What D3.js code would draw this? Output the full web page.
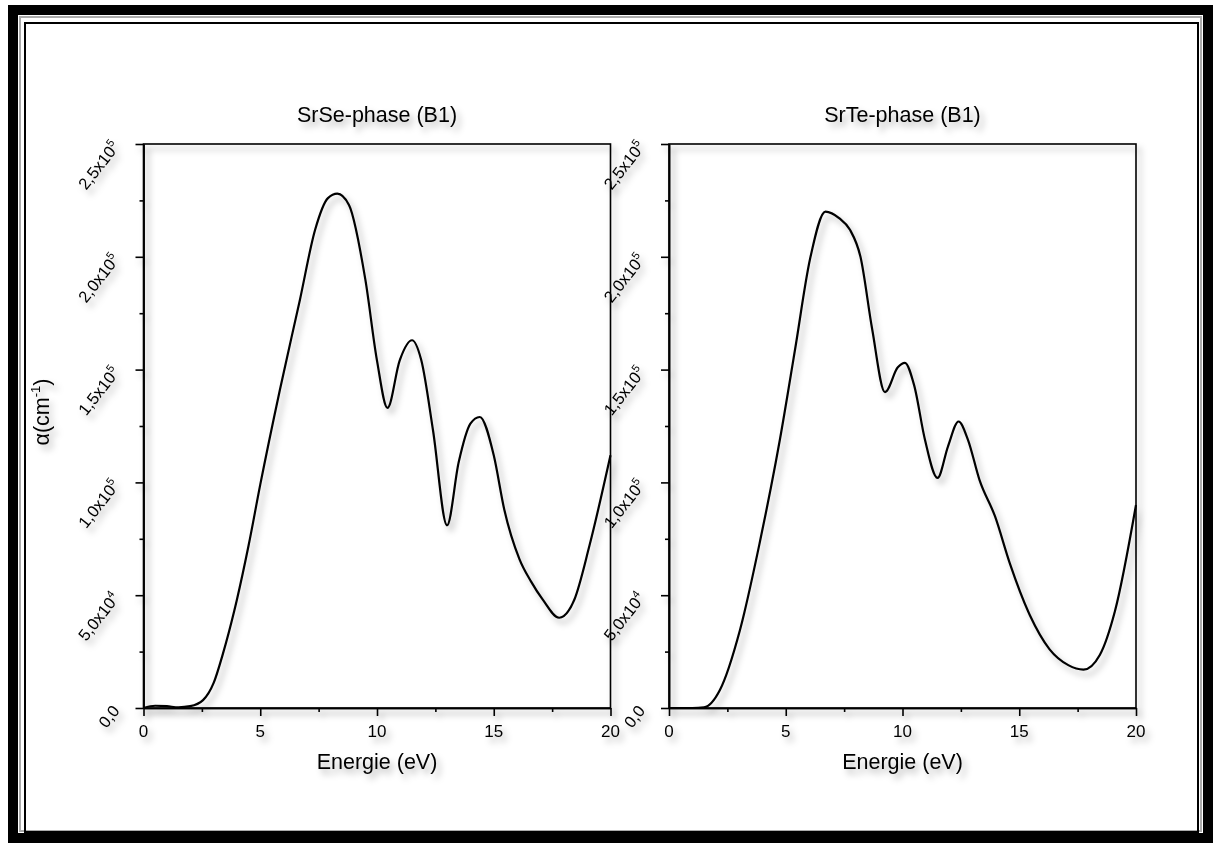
<!DOCTYPE html>
<html>
<head>
<meta charset="utf-8">
<script src="https://cdn.jsdelivr.net/npm/d3@7"></script>
<style>
  body { margin: 0; background: #fff; }
  svg { display: block; font-family: "Liberation Sans", Arial, sans-serif; }
</style>
</head>
<body>
<svg id="chart" width="1216" height="843"></svg>
<script>
// values
let energySe = [0, 0.5, 1, 1.5, 2, 2.55, 3.0, 3.4, 4.0, 4.5, 5, 5.84, 6.7, 7.35, 7.9, 8.3, 8.8, 9.5, 10.0, 10.45, 10.97, 11.5, 11.9, 12.4, 13.0, 13.5, 14.0, 14.4, 15.0, 15.45, 16.1, 16.6, 17.1, 17.8, 18.45, 19.1, 20];
let alphaSe = [0, 1000, 800, 300, 800, 3500, 11000, 24000, 48000, 72000, 99000, 141000, 181000, 212000, 226000, 228000, 223000, 190000, 154000, 133000, 154000, 163000, 154000, 123000, 81000, 109000, 126000, 129000, 112000, 88000, 66000, 56000, 48000, 40000, 48000, 72000, 112000];

let energyTe = [0, 0.5, 1, 1.5, 2.18, 3.04, 3.9, 4.75, 5.4, 6.04, 6.7, 7.3, 7.75, 8.2, 8.7, 9.25, 9.8, 10.1, 10.5, 10.96, 11.5, 11.95, 12.4, 12.8, 13.3, 13.96, 14.6, 15.46, 16.3, 17.1, 17.75, 18.45, 19.1, 20];
let alphaTe = [0, 0, 0, 300, 8000, 34600, 74000, 119000, 159000, 199000, 220000, 217000, 212000, 200000, 168000, 140000, 151000, 153000, 143000, 119000, 102000, 116000, 127000, 119000, 101000, 85000, 64000, 41000, 26000, 19000, 17000, 23500, 43000, 90000];

let titles = ["SrSe-phase (B1)", "SrTe-phase (B1)"];
let xTicks = [0, 5, 10, 15, 20];
let xMinor = [2.5, 7.5, 12.5, 17.5];
let yTicks = [0, 50000, 100000, 150000, 200000, 250000];
let yMinor = [25000, 75000, 125000, 175000, 225000];
let yTickMant = ["0,0", "5,0x10", "1,0x10", "1,5x10", "2,0x10", "2,5x10"];
let yTickExp = ["", "4", "5", "5", "5", "5"];

let svg = d3.select("#chart");

let defs = svg.append("defs");
let f = defs.append("filter").attr("id", "shadow")
    .attr("x", "-20%").attr("y", "-20%").attr("width", "140%").attr("height", "140%");
f.append("feDropShadow")
    .attr("dx", 4).attr("dy", 5).attr("stdDeviation", 3)
    .attr("flood-color", "#000").attr("flood-opacity", 0.3);

// outer frame
svg.append("rect").attr("x", 13).attr("y", 10).attr("width", 1195).attr("height", 828)
    .attr("fill", "none").attr("stroke", "#000").attr("stroke-width", 10);
svg.append("rect").attr("x", 20).attr("y", 17).attr("width", 1181).attr("height", 814)
    .attr("fill", "none").attr("stroke", "#aaa").attr("stroke-width", 2);
svg.append("rect").attr("x", 25).attr("y", 23).attr("width", 1173).attr("height", 809)
    .attr("fill", "none").attr("stroke", "#000").attr("stroke-width", 2);

let panels = [
    { left: 143.5, right: 610.5, energy: energySe, alpha: alphaSe, title: titles[0], ylabel: true },
    { left: 669, right: 1136, energy: energyTe, alpha: alphaTe, title: titles[1], ylabel: false }
];
let plotTop = 144, plotBottom = 708;

panels.forEach(function (p) {
    let x = d3.scaleLinear().domain([0, 20]).range([p.left, p.right]);
    let y = d3.scaleLinear().domain([0, 250000]).range([plotBottom, plotTop]);

    let g = svg.append("g").attr("filter", "url(#shadow)");

    // plot box
    g.append("rect")
        .attr("x", p.left).attr("y", plotTop)
        .attr("width", p.right - p.left).attr("height", plotBottom - plotTop)
        .attr("fill", "none").attr("stroke", "#000").attr("stroke-width", 1.6);

    // axes
    g.append("g").attr("transform", "translate(0," + plotBottom + ")")
        .call(d3.axisBottom(x).tickValues(xTicks).tickSize(8).tickSizeOuter(0).tickFormat(""));
    g.append("g").attr("transform", "translate(0," + plotBottom + ")")
        .call(d3.axisBottom(x).tickValues(xMinor).tickSize(4).tickSizeOuter(0).tickFormat(""));
    g.append("g").attr("transform", "translate(" + p.left + ",0)")
        .call(d3.axisLeft(y).tickValues(yTicks).tickSize(8).tickSizeOuter(0).tickFormat(""));
    g.append("g").attr("transform", "translate(" + p.left + ",0)")
        .call(d3.axisLeft(y).tickValues(yMinor).tickSize(4).tickSizeOuter(0).tickFormat(""));
    g.selectAll(".domain, .tick line").attr("stroke", "#000").attr("stroke-width", 1.6);

    // x tick labels
    g.selectAll(".xlab").data(xTicks).enter().append("text")
        .attr("x", function (d) { return x(d); })
        .attr("y", plotBottom + 29)
        .attr("text-anchor", "middle")
        .attr("font-size", 17)
        .text(function (d) { return d; });

    // y tick labels, rotated, with superscript exponents
    yTicks.forEach(function (d, i) {
        let t = g.append("text")
            .attr("transform", "translate(" + (p.left - 23) + "," + (y(d) + 3) + ") rotate(-52)")
            .attr("text-anchor", "end")
            .attr("font-size", 16.5);
        t.append("tspan").text(yTickMant[i]);
        if (yTickExp[i]) {
            t.append("tspan").attr("font-size", 11).attr("dy", -7).text(yTickExp[i]);
        }
    });

    // title and x label
    g.append("text")
        .attr("x", (p.left + p.right) / 2).attr("y", 122)
        .attr("text-anchor", "middle").attr("font-size", 21.5)
        .text(p.title);
    g.append("text")
        .attr("x", (p.left + p.right) / 2).attr("y", 769)
        .attr("text-anchor", "middle").attr("font-size", 21.5)
        .text("Energie (eV)");

    if (p.ylabel) {
        let yl = g.append("text")
            .attr("transform", "translate(49,412) rotate(-90)")
            .attr("text-anchor", "middle").attr("font-size", 21.5);
        yl.append("tspan").text("α(cm");
        yl.append("tspan").attr("font-size", 13).attr("dy", -9).text("-1");
        yl.append("tspan").attr("dy", 9).text(")");
    }

    // curve
    let pts = p.energy.map(function (e, i) { return [e, p.alpha[i]]; });
    let line = d3.line()
        .x(function (d) { return x(d[0]); })
        .y(function (d) { return y(d[1]); })
        .curve(d3.curveMonotoneX);
    g.append("path")
        .datum(pts)
        .attr("d", line)
        .attr("fill", "none")
        .attr("stroke", "#000")
        .attr("stroke-width", 2.2);
});
</script>
</body>
</html>
